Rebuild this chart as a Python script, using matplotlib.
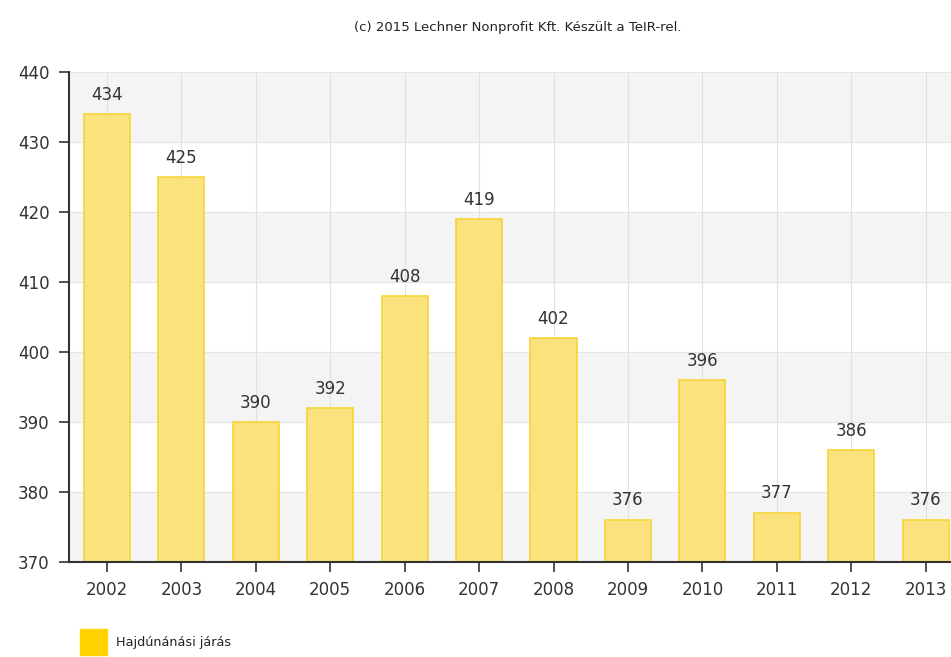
import matplotlib.pyplot as plt
from matplotlib.patches import Rectangle

years = ['2002', '2003', '2004', '2005', '2006', '2007', '2008', '2009', '2010', '2011', '2012', '2013']
values = [434, 425, 390, 392, 408, 419, 402, 376, 396, 377, 386, 376]
yticks = [370, 380, 390, 400, 410, 420, 430, 440]

fig = plt.figure(figsize=(9.51, 6.57), dpi=100)
ax = fig.add_axes([0.0726, 0.1446, 0.9274, 0.7458])

x = list(range(len(years)))

# alternating background bands
for i, lo in enumerate(yticks[:-1]):
    if i % 2 == 0:
        ax.axhspan(lo, lo + 10, color='#f4f4f4', zorder=0, lw=0)
for t in yticks[1:]:
    ax.axhline(t, color='#e4e4e4', lw=0.8, zorder=1)
for xi in x:
    ax.axvline(xi, color='#e0e0e0', lw=0.8, zorder=1)

ax.bar(x, [v - 370 for v in values], bottom=370, width=0.62,
       color='#fbe27c', edgecolor='#f6d43a', linewidth=1.2, zorder=2)

for xi, v in zip(x, values):
    ax.text(xi, v + 1.5, str(v), ha='center', va='bottom', fontsize=12, color='#333333', zorder=3)

ax.set_xlim(-0.51, 11.34)
ax.set_ylim(370, 440)
ax.set_yticks(yticks)
ax.set_xticks(x)
ax.set_xticklabels(years)
ax.tick_params(axis='both', labelsize=12, colors='#333333', length=7, width=1.2, pad=7)

for s in ['top', 'right']:
    ax.spines[s].set_visible(False)
for s in ['left', 'bottom']:
    ax.spines[s].set_color('#333333')
    ax.spines[s].set_linewidth(1.5)

fig.text(0.544, 0.958, '(c) 2015 Lechner Nonprofit Kft. Készült a TeIR-rel.',
         ha='center', va='center', fontsize=9.5, color='#222222')

fig.patches.append(Rectangle((0.084, 0.003), 0.028, 0.040, transform=fig.transFigure,
                             color='#ffd200', figure=fig))
fig.text(0.122, 0.022, 'Hajdúnánási járás', ha='left', va='center', fontsize=9.2, color='#222222')

fig.savefig('out.png', dpi=100)
